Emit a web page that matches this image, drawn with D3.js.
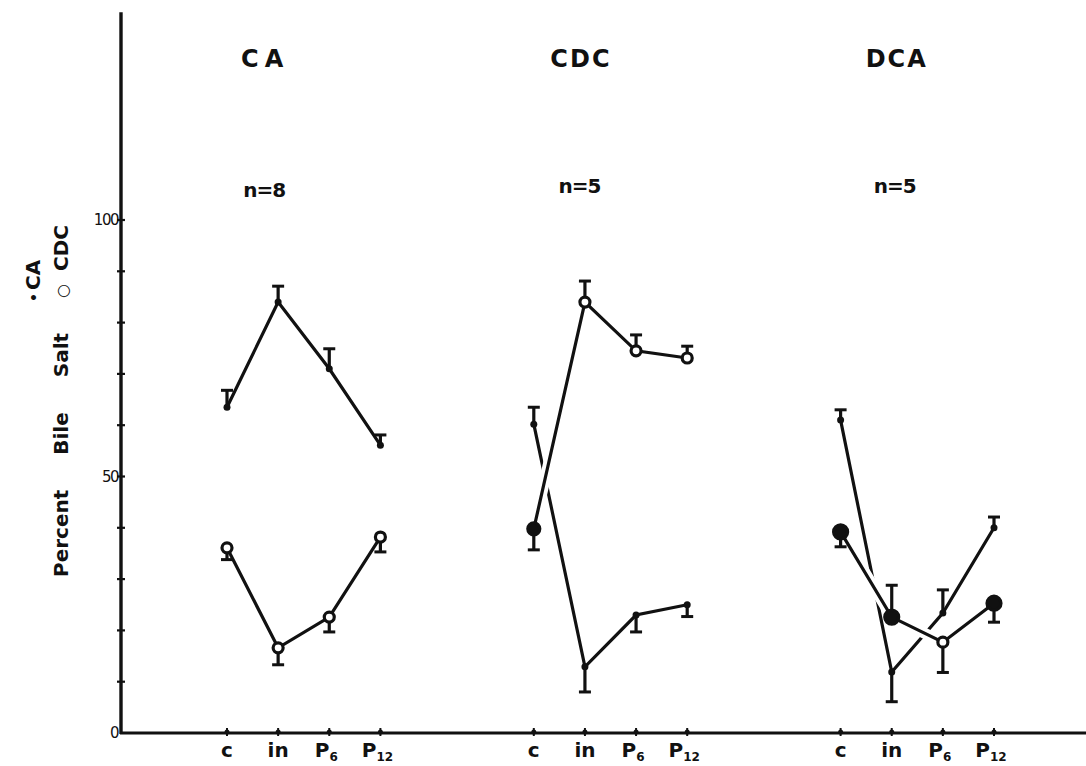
<!DOCTYPE html>
<html>
<head>
<meta charset="utf-8">
<script src="https://cdn.jsdelivr.net/npm/d3@7"></script>
<style>
  body { margin: 0; background: #fff; }
  svg { display: block; }
  text { fill: #111; font-family: "DejaVu Sans", sans-serif; }
</style>
</head>
<body>
<div id="chart"></div>
<script>
// panels and sampling points
const panels = ["CA", "CDC", "DCA"];
const nLabels = ["n=8", "n=5", "n=5"];
const points = ["c", "in", "P6", "P12"];

// percent CA (filled dots), one row per panel
const caMean = [
  [63.5, 84.0, 71.0, 56.1],
  [60.2, 12.9, 23.0, 25.0],
  [61.0, 11.9, 23.4, 40.0]
];
// one-sided error bars (+ drawn up, - drawn down)
const caErr = [
  [3.3, 3.1, 3.9, 2.0],
  [3.3, -4.9, -3.3, -2.3],
  [2.0, -5.8, 4.5, 2.1]
];

// percent CDC (open circles)
const cdcMean = [
  [36.1, 16.6, 22.6, 38.2],
  [39.8, 84.0, 74.5, 73.1],
  [39.2, 22.6, 17.7, 25.3]
];
const cdcErr = [
  [-2.3, -3.3, -2.9, -2.9],
  [-4.1, 4.1, 3.1, 2.3],
  [-2.9, 6.2, -5.9, -3.7]
];
// CDC markers printed as solid blobs in the original
const cdcSolid = ["CDC:c", "DCA:c", "DCA:in", "DCA:P12"];

const yTicks = d3.range(0, 101, 10);
const yTickLabels = [0, 50, 100];

const width = 1086, height = 766;
const svg = d3.select("#chart").append("svg")
  .attr("width", width).attr("height", height);

const axisX = 121, axisBottom = 733;
// slot index: panel * 6 + point index (three empty slots between panels)
const x = d3.scaleLinear().domain([0, 15]).range([227, 994]);
const y = d3.scaleLinear().domain([0, 100]).range([axisBottom, 220]);
const slot = (p, i) => x(p * 6 + i);

// axes
svg.append("line")
  .attr("x1", axisX).attr("x2", axisX)
  .attr("y1", y(140.5)).attr("y2", axisBottom + 1)
  .attr("stroke", "#111").attr("stroke-width", 3.4);
svg.append("line")
  .attr("x1", axisX - 1).attr("x2", width)
  .attr("y1", axisBottom).attr("y2", axisBottom)
  .attr("stroke", "#111").attr("stroke-width", 3);

svg.selectAll(".ytick").data(yTicks.filter(d => d > 0)).join("line")
  .attr("x1", axisX - 4).attr("x2", axisX + 4)
  .attr("y1", d => y(d)).attr("y2", d => y(d))
  .attr("stroke", "#111").attr("stroke-width", 2.2);

svg.selectAll(".ylab").data(yTickLabels).join("text")
  .attr("x", axisX - 3)
  .attr("y", d => y(d) + 5)
  .attr("text-anchor", "end")
  .style("font-size", "15px")
  .style("letter-spacing", "-1.5px")
  .text(d => d);

// x ticks and labels
panels.forEach((pn, p) => {
  points.forEach((pt, i) => {
    const cx = slot(p, i);
    svg.append("line")
      .attr("x1", cx).attr("x2", cx)
      .attr("y1", axisBottom - 5).attr("y2", axisBottom + 3)
      .attr("stroke", "#111").attr("stroke-width", 2);
    svg.append("circle").attr("cx", cx).attr("cy", axisBottom - 1).attr("r", 2.5).attr("fill", "#111");
    const t = svg.append("text")
      .attr("x", cx).attr("y", 757)
      .attr("text-anchor", "middle")
      .style("font-size", "20px").style("font-weight", "bold");
    if (pt[0] === "P") {
      t.attr("x", cx - 3);
      t.append("tspan").text("P");
      t.append("tspan").attr("dy", 4).style("font-size", "12px").text(pt.slice(1));
    } else {
      t.text(pt);
    }
  });

  svg.append("text")
    .attr("x", slot(p, 1) - 13 + p * 9).attr("y", 67)
    .attr("text-anchor", "middle")
    .style("font-size", "24px").style("font-weight", "bold")
    .style("letter-spacing", p === 0 ? "6px" : "2px")
    .text(pn);
  svg.append("text")
    .attr("x", slot(p, 1) - 14 + p * 8.5).attr("y", p === 0 ? 197 : 193)
    .attr("text-anchor", "middle")
    .style("font-size", "20px").style("font-weight", "bold")
    .style("letter-spacing", "-1px")
    .text(nLabels[p]);
});

const line = d3.line().x(d => d.x).y(d => d.y);
const toPts = (arr, p) => arr.map((v, i) => ({ x: slot(p, i), y: y(v), v, i }));

const gLines = svg.append("g");
const gMarks = svg.append("g");

panels.forEach((pn, p) => {
  const ca = toPts(caMean[p], p);
  const cdc = toPts(cdcMean[p], p);

  gLines.append("path").attr("d", line(ca))
    .attr("fill", "none").attr("stroke", "#111").attr("stroke-width", 3.2);
  // CDC line knocks a gap into the CA line where they cross
  gLines.append("path").attr("d", line(cdc))
    .attr("fill", "none").attr("stroke", "#fff").attr("stroke-width", 11);
  gLines.append("path").attr("d", line(cdc))
    .attr("fill", "none").attr("stroke", "#111").attr("stroke-width", 3.2);

  // error bars
  const bars = ca.map((d, i) => ({ ...d, e: caErr[p][i] }))
    .concat(cdc.map((d, i) => ({ ...d, e: cdcErr[p][i] })));
  bars.forEach(d => {
    const ye = y(d.v + d.e);
    gMarks.append("line")
      .attr("x1", d.x).attr("x2", d.x).attr("y1", d.y).attr("y2", ye)
      .attr("stroke", "#111").attr("stroke-width", 3.2);
    gMarks.append("line")
      .attr("x1", d.x - 6).attr("x2", d.x + 6).attr("y1", ye).attr("y2", ye)
      .attr("stroke", "#111").attr("stroke-width", 3);
  });

  gMarks.selectAll(null).data(ca).join("circle")
    .attr("cx", d => d.x).attr("cy", d => d.y).attr("r", 3.5)
    .attr("fill", "#111");

  gMarks.selectAll(null).data(cdc).join("circle")
    .attr("cx", d => d.x).attr("cy", d => d.y)
    .attr("r", d => cdcSolid.includes(pn + ":" + points[d.i]) ? (p === 2 ? 7 : 6) : 5)
    .attr("fill", d => cdcSolid.includes(pn + ":" + points[d.i]) ? "#111" : "#fff")
    .attr("stroke", "#111").attr("stroke-width", 3.2);
});

// y axis title (rotated, two lines)
const yt = svg.append("text")
  .attr("transform", "translate(68,577) rotate(-90)")
  .style("font-size", "20px").style("font-weight", "bold")
  .style("word-spacing", "28px");
yt.append("tspan").text("Percent Bile Salt ");
yt.append("tspan").style("font-weight", "normal").style("font-size", "16px").text("\u25CB");
yt.append("tspan").attr("dx", -22).text(" CDC");

const yt2 = svg.append("text")
  .attr("transform", "translate(40,302) rotate(-90)")
  .style("font-size", "20px").style("font-weight", "bold");
yt2.append("tspan").style("font-size", "14px").attr("dy", -1).text("\u2022");
yt2.append("tspan").attr("dx", 3).attr("dy", 1).text("CA");
</script>
</body>
</html>
